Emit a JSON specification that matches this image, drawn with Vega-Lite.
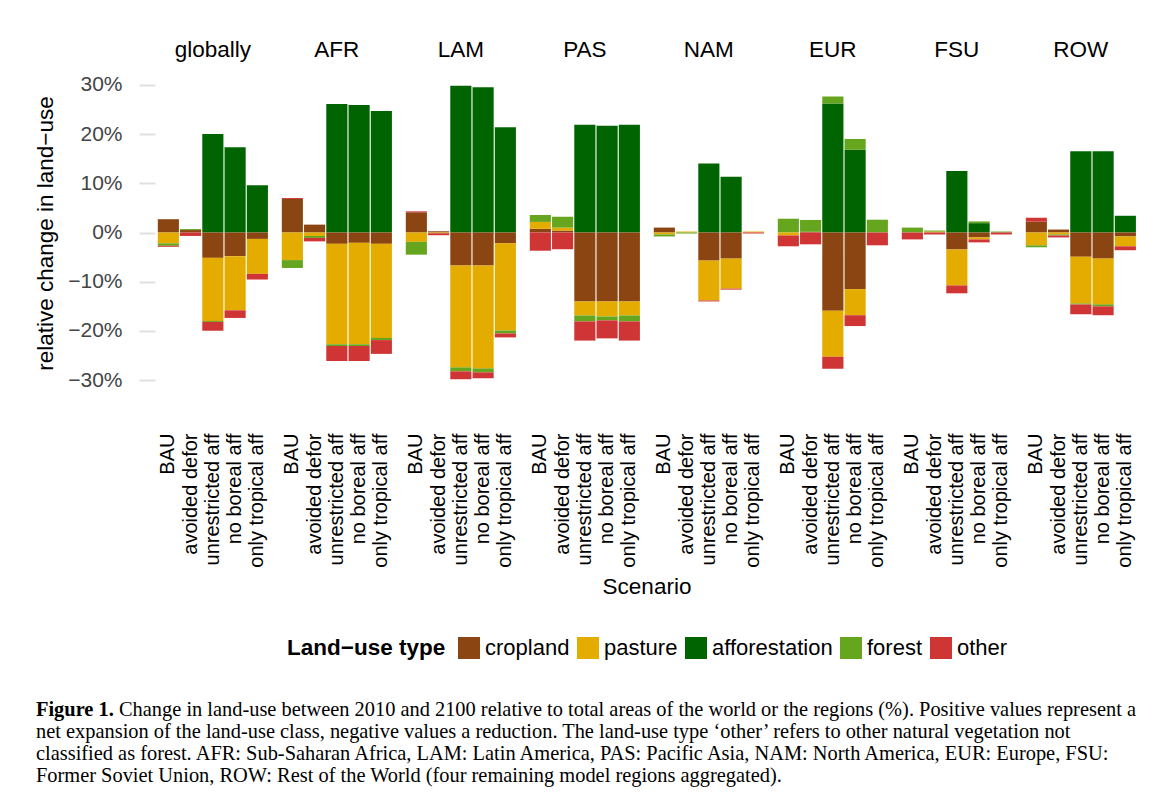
{
  "$schema": "https://vega.github.io/schema/vega-lite/v6.json",
  "background": "white",
  "padding": {"left": 34, "top": 38, "right": 0, "bottom": 0},
  "config": {
    "view": {"stroke": null},
    "font": "Liberation Sans"
  },
  "datasets": {
    "landuse": [
      {"region": "globally", "scenario": "BAU", "type": "cropland", "value": 2.7},
      {"region": "globally", "scenario": "BAU", "type": "pasture", "value": -2.2},
      {"region": "globally", "scenario": "BAU", "type": "forest", "value": -0.5},
      {"region": "globally", "scenario": "BAU", "type": "other", "value": -0.2},
      {"region": "globally", "scenario": "avoided defor", "type": "cropland", "value": 0.5},
      {"region": "globally", "scenario": "avoided defor", "type": "forest", "value": 0.2},
      {"region": "globally", "scenario": "avoided defor", "type": "other", "value": -0.7},
      {"region": "globally", "scenario": "unrestricted aff", "type": "afforestation", "value": 20.0},
      {"region": "globally", "scenario": "unrestricted aff", "type": "cropland", "value": -5.15},
      {"region": "globally", "scenario": "unrestricted aff", "type": "pasture", "value": -12.8},
      {"region": "globally", "scenario": "unrestricted aff", "type": "forest", "value": -0.2},
      {"region": "globally", "scenario": "unrestricted aff", "type": "other", "value": -1.8},
      {"region": "globally", "scenario": "no boreal aff", "type": "afforestation", "value": 17.3},
      {"region": "globally", "scenario": "no boreal aff", "type": "cropland", "value": -4.8},
      {"region": "globally", "scenario": "no boreal aff", "type": "pasture", "value": -11.0},
      {"region": "globally", "scenario": "no boreal aff", "type": "other", "value": -1.55},
      {"region": "globally", "scenario": "only tropical aff", "type": "afforestation", "value": 9.6},
      {"region": "globally", "scenario": "only tropical aff", "type": "cropland", "value": -1.3},
      {"region": "globally", "scenario": "only tropical aff", "type": "pasture", "value": -7.1},
      {"region": "globally", "scenario": "only tropical aff", "type": "other", "value": -1.15},

      {"region": "AFR", "scenario": "BAU", "type": "cropland", "value": 6.8},
      {"region": "AFR", "scenario": "BAU", "type": "other", "value": 0.2},
      {"region": "AFR", "scenario": "BAU", "type": "pasture", "value": -5.6},
      {"region": "AFR", "scenario": "BAU", "type": "forest", "value": -1.6},
      {"region": "AFR", "scenario": "avoided defor", "type": "cropland", "value": 1.6},
      {"region": "AFR", "scenario": "avoided defor", "type": "pasture", "value": -0.7},
      {"region": "AFR", "scenario": "avoided defor", "type": "forest", "value": -0.4},
      {"region": "AFR", "scenario": "avoided defor", "type": "other", "value": -0.7},
      {"region": "AFR", "scenario": "unrestricted aff", "type": "afforestation", "value": 26.1},
      {"region": "AFR", "scenario": "unrestricted aff", "type": "cropland", "value": -2.3},
      {"region": "AFR", "scenario": "unrestricted aff", "type": "pasture", "value": -20.4},
      {"region": "AFR", "scenario": "unrestricted aff", "type": "forest", "value": -0.35},
      {"region": "AFR", "scenario": "unrestricted aff", "type": "other", "value": -3.05},
      {"region": "AFR", "scenario": "no boreal aff", "type": "afforestation", "value": 25.9},
      {"region": "AFR", "scenario": "no boreal aff", "type": "cropland", "value": -2.1},
      {"region": "AFR", "scenario": "no boreal aff", "type": "pasture", "value": -20.6},
      {"region": "AFR", "scenario": "no boreal aff", "type": "forest", "value": -0.35},
      {"region": "AFR", "scenario": "no boreal aff", "type": "other", "value": -3.05},
      {"region": "AFR", "scenario": "only tropical aff", "type": "afforestation", "value": 24.7},
      {"region": "AFR", "scenario": "only tropical aff", "type": "cropland", "value": -2.3},
      {"region": "AFR", "scenario": "only tropical aff", "type": "pasture", "value": -19.1},
      {"region": "AFR", "scenario": "only tropical aff", "type": "forest", "value": -0.45},
      {"region": "AFR", "scenario": "only tropical aff", "type": "other", "value": -2.8},

      {"region": "LAM", "scenario": "BAU", "type": "cropland", "value": 4.1},
      {"region": "LAM", "scenario": "BAU", "type": "other", "value": 0.2},
      {"region": "LAM", "scenario": "BAU", "type": "pasture", "value": -1.9},
      {"region": "LAM", "scenario": "BAU", "type": "forest", "value": -2.6},
      {"region": "LAM", "scenario": "avoided defor", "type": "cropland", "value": 0.25},
      {"region": "LAM", "scenario": "avoided defor", "type": "pasture", "value": -0.15},
      {"region": "LAM", "scenario": "avoided defor", "type": "other", "value": -0.4},
      {"region": "LAM", "scenario": "unrestricted aff", "type": "afforestation", "value": 29.8},
      {"region": "LAM", "scenario": "unrestricted aff", "type": "cropland", "value": -6.7},
      {"region": "LAM", "scenario": "unrestricted aff", "type": "pasture", "value": -20.7},
      {"region": "LAM", "scenario": "unrestricted aff", "type": "forest", "value": -0.8},
      {"region": "LAM", "scenario": "unrestricted aff", "type": "other", "value": -1.6},
      {"region": "LAM", "scenario": "no boreal aff", "type": "afforestation", "value": 29.5},
      {"region": "LAM", "scenario": "no boreal aff", "type": "cropland", "value": -6.7},
      {"region": "LAM", "scenario": "no boreal aff", "type": "pasture", "value": -20.9},
      {"region": "LAM", "scenario": "no boreal aff", "type": "forest", "value": -0.8},
      {"region": "LAM", "scenario": "no boreal aff", "type": "other", "value": -1.2},
      {"region": "LAM", "scenario": "only tropical aff", "type": "afforestation", "value": 21.4},
      {"region": "LAM", "scenario": "only tropical aff", "type": "cropland", "value": -2.2},
      {"region": "LAM", "scenario": "only tropical aff", "type": "pasture", "value": -17.7},
      {"region": "LAM", "scenario": "only tropical aff", "type": "forest", "value": -0.6},
      {"region": "LAM", "scenario": "only tropical aff", "type": "other", "value": -0.8},

      {"region": "PAS", "scenario": "BAU", "type": "cropland", "value": 0.75},
      {"region": "PAS", "scenario": "BAU", "type": "pasture", "value": 1.4},
      {"region": "PAS", "scenario": "BAU", "type": "forest", "value": 1.4},
      {"region": "PAS", "scenario": "BAU", "type": "other", "value": -3.7},
      {"region": "PAS", "scenario": "avoided defor", "type": "cropland", "value": 0.4},
      {"region": "PAS", "scenario": "avoided defor", "type": "pasture", "value": 0.6},
      {"region": "PAS", "scenario": "avoided defor", "type": "forest", "value": 2.2},
      {"region": "PAS", "scenario": "avoided defor", "type": "other", "value": -3.4},
      {"region": "PAS", "scenario": "unrestricted aff", "type": "afforestation", "value": 21.9},
      {"region": "PAS", "scenario": "unrestricted aff", "type": "cropland", "value": -14.0},
      {"region": "PAS", "scenario": "unrestricted aff", "type": "pasture", "value": -2.85},
      {"region": "PAS", "scenario": "unrestricted aff", "type": "forest", "value": -1.2},
      {"region": "PAS", "scenario": "unrestricted aff", "type": "other", "value": -3.9},
      {"region": "PAS", "scenario": "no boreal aff", "type": "afforestation", "value": 21.7},
      {"region": "PAS", "scenario": "no boreal aff", "type": "cropland", "value": -14.0},
      {"region": "PAS", "scenario": "no boreal aff", "type": "pasture", "value": -3.05},
      {"region": "PAS", "scenario": "no boreal aff", "type": "forest", "value": -0.8},
      {"region": "PAS", "scenario": "no boreal aff", "type": "other", "value": -3.65},
      {"region": "PAS", "scenario": "only tropical aff", "type": "afforestation", "value": 21.9},
      {"region": "PAS", "scenario": "only tropical aff", "type": "cropland", "value": -14.0},
      {"region": "PAS", "scenario": "only tropical aff", "type": "pasture", "value": -2.85},
      {"region": "PAS", "scenario": "only tropical aff", "type": "forest", "value": -1.2},
      {"region": "PAS", "scenario": "only tropical aff", "type": "other", "value": -3.9},

      {"region": "NAM", "scenario": "BAU", "type": "cropland", "value": 1.0},
      {"region": "NAM", "scenario": "BAU", "type": "pasture", "value": -0.4},
      {"region": "NAM", "scenario": "BAU", "type": "forest", "value": -0.4},
      {"region": "NAM", "scenario": "avoided defor", "type": "pasture", "value": 0.2},
      {"region": "NAM", "scenario": "avoided defor", "type": "forest", "value": -0.2},
      {"region": "NAM", "scenario": "unrestricted aff", "type": "afforestation", "value": 14.0},
      {"region": "NAM", "scenario": "unrestricted aff", "type": "cropland", "value": -5.7},
      {"region": "NAM", "scenario": "unrestricted aff", "type": "pasture", "value": -8.1},
      {"region": "NAM", "scenario": "unrestricted aff", "type": "other", "value": -0.2},
      {"region": "NAM", "scenario": "no boreal aff", "type": "afforestation", "value": 11.3},
      {"region": "NAM", "scenario": "no boreal aff", "type": "cropland", "value": -5.3},
      {"region": "NAM", "scenario": "no boreal aff", "type": "pasture", "value": -6.1},
      {"region": "NAM", "scenario": "no boreal aff", "type": "other", "value": -0.2},
      {"region": "NAM", "scenario": "only tropical aff", "type": "pasture", "value": 0.2},
      {"region": "NAM", "scenario": "only tropical aff", "type": "other", "value": -0.2},

      {"region": "EUR", "scenario": "BAU", "type": "forest", "value": 2.8},
      {"region": "EUR", "scenario": "BAU", "type": "pasture", "value": -0.6},
      {"region": "EUR", "scenario": "BAU", "type": "other", "value": -2.2},
      {"region": "EUR", "scenario": "avoided defor", "type": "cropland", "value": 0.15},
      {"region": "EUR", "scenario": "avoided defor", "type": "forest", "value": 2.4},
      {"region": "EUR", "scenario": "avoided defor", "type": "other", "value": -2.4},
      {"region": "EUR", "scenario": "unrestricted aff", "type": "afforestation", "value": 26.2},
      {"region": "EUR", "scenario": "unrestricted aff", "type": "forest", "value": 1.4},
      {"region": "EUR", "scenario": "unrestricted aff", "type": "cropland", "value": -15.9},
      {"region": "EUR", "scenario": "unrestricted aff", "type": "pasture", "value": -9.35},
      {"region": "EUR", "scenario": "unrestricted aff", "type": "other", "value": -2.4},
      {"region": "EUR", "scenario": "no boreal aff", "type": "afforestation", "value": 16.8},
      {"region": "EUR", "scenario": "no boreal aff", "type": "forest", "value": 2.2},
      {"region": "EUR", "scenario": "no boreal aff", "type": "cropland", "value": -11.5},
      {"region": "EUR", "scenario": "no boreal aff", "type": "pasture", "value": -5.3},
      {"region": "EUR", "scenario": "no boreal aff", "type": "other", "value": -2.2},
      {"region": "EUR", "scenario": "only tropical aff", "type": "forest", "value": 2.6},
      {"region": "EUR", "scenario": "only tropical aff", "type": "other", "value": -2.6},

      {"region": "FSU", "scenario": "BAU", "type": "forest", "value": 1.0},
      {"region": "FSU", "scenario": "BAU", "type": "other", "value": -1.4},
      {"region": "FSU", "scenario": "avoided defor", "type": "pasture", "value": 0.2},
      {"region": "FSU", "scenario": "avoided defor", "type": "forest", "value": 0.2},
      {"region": "FSU", "scenario": "avoided defor", "type": "other", "value": -0.4},
      {"region": "FSU", "scenario": "unrestricted aff", "type": "afforestation", "value": 12.5},
      {"region": "FSU", "scenario": "unrestricted aff", "type": "cropland", "value": -3.45},
      {"region": "FSU", "scenario": "unrestricted aff", "type": "pasture", "value": -7.3},
      {"region": "FSU", "scenario": "unrestricted aff", "type": "other", "value": -1.6},
      {"region": "FSU", "scenario": "no boreal aff", "type": "afforestation", "value": 1.9},
      {"region": "FSU", "scenario": "no boreal aff", "type": "forest", "value": 0.35},
      {"region": "FSU", "scenario": "no boreal aff", "type": "cropland", "value": -1.0},
      {"region": "FSU", "scenario": "no boreal aff", "type": "pasture", "value": -0.4},
      {"region": "FSU", "scenario": "no boreal aff", "type": "other", "value": -0.6},
      {"region": "FSU", "scenario": "only tropical aff", "type": "forest", "value": 0.2},
      {"region": "FSU", "scenario": "only tropical aff", "type": "other", "value": -0.4},

      {"region": "ROW", "scenario": "BAU", "type": "cropland", "value": 2.2},
      {"region": "ROW", "scenario": "BAU", "type": "other", "value": 0.8},
      {"region": "ROW", "scenario": "BAU", "type": "pasture", "value": -2.6},
      {"region": "ROW", "scenario": "BAU", "type": "forest", "value": -0.4},
      {"region": "ROW", "scenario": "avoided defor", "type": "cropland", "value": 0.6},
      {"region": "ROW", "scenario": "avoided defor", "type": "pasture", "value": -0.4},
      {"region": "ROW", "scenario": "avoided defor", "type": "forest", "value": -0.2},
      {"region": "ROW", "scenario": "avoided defor", "type": "other", "value": -0.4},
      {"region": "ROW", "scenario": "unrestricted aff", "type": "afforestation", "value": 16.5},
      {"region": "ROW", "scenario": "unrestricted aff", "type": "cropland", "value": -4.9},
      {"region": "ROW", "scenario": "unrestricted aff", "type": "pasture", "value": -9.5},
      {"region": "ROW", "scenario": "unrestricted aff", "type": "forest", "value": -0.2},
      {"region": "ROW", "scenario": "unrestricted aff", "type": "other", "value": -2.0},
      {"region": "ROW", "scenario": "no boreal aff", "type": "afforestation", "value": 16.5},
      {"region": "ROW", "scenario": "no boreal aff", "type": "cropland", "value": -5.3},
      {"region": "ROW", "scenario": "no boreal aff", "type": "pasture", "value": -9.3},
      {"region": "ROW", "scenario": "no boreal aff", "type": "forest", "value": -0.4},
      {"region": "ROW", "scenario": "no boreal aff", "type": "other", "value": -1.8},
      {"region": "ROW", "scenario": "only tropical aff", "type": "afforestation", "value": 3.4},
      {"region": "ROW", "scenario": "only tropical aff", "type": "cropland", "value": -0.8},
      {"region": "ROW", "scenario": "only tropical aff", "type": "pasture", "value": -2.0},
      {"region": "ROW", "scenario": "only tropical aff", "type": "other", "value": -0.8}
    ],
    "caption": [
      {"line": 1, "part": "label", "text": "Figure 1."},
      {"line": 1, "part": "first", "text": "Change in land-use between 2010 and 2100 relative to total areas of the world or the regions (%). Positive values represent a"},
      {"line": 2, "part": "body", "text": "net expansion of the land-use class, negative values a reduction. The land-use type ‘other’ refers to other natural vegetation not"},
      {"line": 3, "part": "body", "text": "classified as forest. AFR: Sub-Saharan Africa, LAM: Latin America, PAS: Pacific Asia, NAM: North America, EUR: Europe, FSU:"},
      {"line": 4, "part": "body", "text": "Former Soviet Union, ROW: Rest of the World (four remaining model regions aggregated)."}
    ]
  },
  "resolve": {"legend": {"color": "independent"}},
  "spacing": 39,
  "vconcat": [
    {
      "data": {"name": "landuse"},
      "transform": [
        {"calculate": "indexof(['cropland', 'pasture', 'afforestation', 'forest', 'other'], datum.type)", "as": "stackorder"}
      ],
      "facet": {
        "column": {
          "field": "region", "type": "nominal",
          "sort": ["globally", "AFR", "LAM", "PAS", "NAM", "EUR", "FSU", "ROW"],
          "header": {
            "title": "Scenario", "titleOrient": "bottom", "titleFontSize": 22.5, "titleFontWeight": "normal", "titleColor": "black", "titleFont": "Liberation Sans", "titlePadding": -2,
            "labelFontSize": 22.5, "labelFont": "Liberation Sans", "labelColor": "black", "labelPadding": -8, "labelBaseline": "alphabetic"
          }
        }
      },
      "spacing": 8,
      "spec": {
        "width": 115.7,
        "height": 324,
        "mark": {"type": "bar"},
        "encoding": {
          "x": {
            "field": "scenario", "type": "nominal",
            "sort": ["BAU", "avoided defor", "unrestricted aff", "no boreal aff", "only tropical aff"],
            "scale": {"paddingInner": 0.05, "paddingOuter": 0.125},
            "axis": {
              "title": null,
              "labelAngle": -90, "labelFontSize": 20, "labelColor": "black", "labelPadding": 38,
              "ticks": false, "domain": false, "grid": false
            }
          },
          "y": {
            "field": "value", "type": "quantitative",
            "scale": {"domain": [-33, 32.8], "nice": false, "zero": false},
            "axis": {
              "title": "relative change in land−use", "titleFontSize": 22.5, "titleFontWeight": "normal", "titleColor": "black", "titlePadding": 10,
              "values": [-30, -20, -10, 0, 10, 20, 30],
              "labelExpr": "format(datum.value, 'd') + '%'",
              "labelFontSize": 21, "labelColor": "#444444", "labelPadding": 17,
              "tickSize": 16, "tickColor": "#e0e0e0", "tickWidth": 2, "domain": false, "grid": false
            }
          },
          "order": {"field": "stackorder", "type": "quantitative", "sort": "ascending"},
          "color": {
            "field": "type", "type": "nominal",
            "sort": ["cropland", "pasture", "afforestation", "forest", "other"],
            "scale": {
              "domain": ["cropland", "pasture", "afforestation", "forest", "other"],
              "range": ["#8B4513", "#E5AC00", "#006400", "#66A61E", "#D03535"]
            },
            "legend": {
              "title": "Land−use type", "orient": "none", "legendX": 132, "legendY": 566, "direction": "horizontal", "titleOrient": "left",
              "titleFontSize": 22.5, "titleFontWeight": "bold", "titleColor": "black", "titlePadding": 12,
              "labelFontSize": 22, "labelColor": "black", "labelOffset": 5, "columnPadding": 7,
              "symbolType": "square", "symbolSize": 484, "symbolStrokeWidth": 0, "symbolOpacity": 1
            }
          }
        }
      }
    },
    {
      "data": {"name": "caption"},
      "width": 1000,
      "height": {"step": 22},
      "encoding": {
        "y": {"field": "line", "type": "ordinal", "axis": null},
        "text": {"field": "text"},
        "x": {"value": 0}
      },
      "layer": [
        {
          "transform": [{"filter": "datum.part == 'label'"}],
          "mark": {"type": "text", "align": "left", "baseline": "middle", "font": "Liberation Serif", "fontSize": 20.4, "fontWeight": "bold", "color": "black", "dx": -119}
        },
        {
          "transform": [{"filter": "datum.part == 'first'"}],
          "mark": {"type": "text", "align": "left", "baseline": "middle", "font": "Liberation Serif", "fontSize": 20.4, "color": "black", "dx": -36}
        },
        {
          "transform": [{"filter": "datum.part == 'body'"}],
          "mark": {"type": "text", "align": "left", "baseline": "middle", "font": "Liberation Serif", "fontSize": 20.4, "color": "black", "dx": -119}
        }
      ]
    }
  ]
}
